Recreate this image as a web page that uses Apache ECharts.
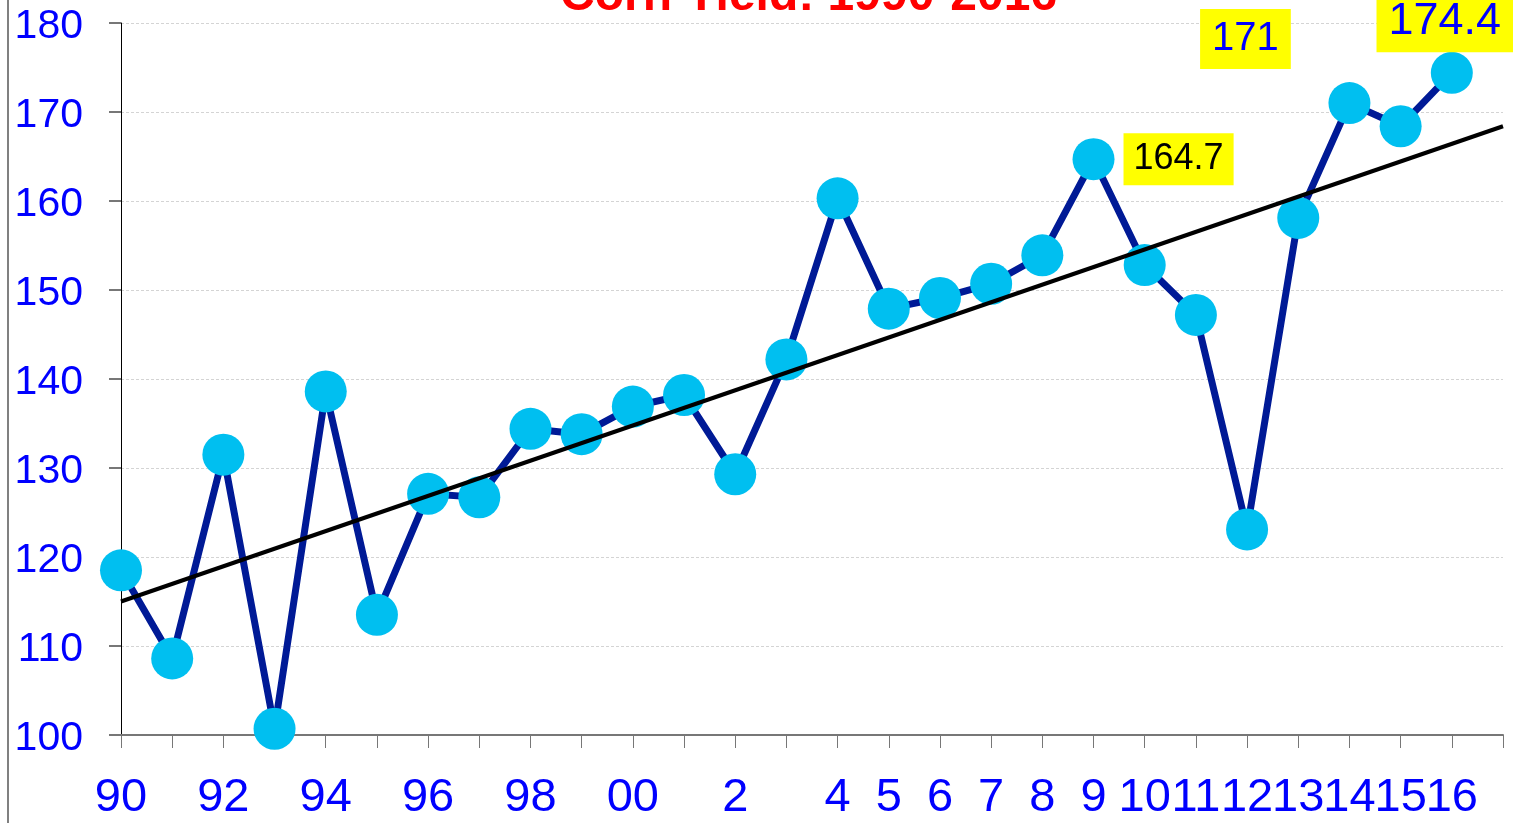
<!DOCTYPE html>
<html>
<head>
<meta charset="utf-8">
<script src="https://cdn.jsdelivr.net/npm/echarts@6/dist/echarts.min.js"></script>
<style>
  html, body { margin: 0; padding: 0; background: #fff; }
  #main { width: 1513px; height: 823px; }
</style>
</head>
<body>
<div id="main"></div>
<script>
// years 1990-2016, plus one empty slot at the end of the axis
var years = ['1990','1991','1992','1993','1994','1995','1996','1997','1998','1999',
             '2000','2001','2002','2003','2004','2005','2006','2007','2008','2009',
             '2010','2011','2012','2013','2014','2015','2016','2017'];
var tickLabels = ['90','','92','','94','','96','','98','','00','','2','','4','5','6','7','8','9',
                  '10','11','12','13','14','15','16',''];
var yieldValues = [118.5, 108.6, 131.5, 100.7, 138.6, 113.5, 127.1, 126.7, 134.4, 133.8,
                   136.9, 138.2, 129.3, 142.2, 160.3, 147.9, 149.1, 150.7, 153.9, 164.7,
                   152.8, 147.2, 123.1, 158.1, 171.0, 168.4, 174.4, null];
// trend line end points (first and last slot of the axis)
var trendStart = 115.0;
var trendEnd = 168.4;
var yTicks = [100, 110, 120, 130, 140, 150, 160, 170, 180];

var font = "Arial, 'Liberation Sans', sans-serif";

// callout boxes for a few years
var callouts = {
  '2009': { text: '164.7', position: 'right', distance: 9, offset: [0, 0], color: '#000000', fontSize: 36, padding: [8, 10] },
  '2014': { text: '171', position: 'inside', distance: 0, offset: [-104, -64], color: '#0000FF', fontSize: 40, padding: [10, 12] },
  '2016': { text: '174.4', position: 'inside', distance: 0, offset: [-7, -51], color: '#0000FF', fontSize: 45, padding: [8, 12] }
};

var seriesData = [];
for (var i = 0; i < years.length; i++) {
  var item = { value: yieldValues[i] };
  var c = callouts[years[i]];
  if (c) {
    item.label = {
      show: true,
      formatter: c.text,
      position: c.position,
      distance: c.distance,
      offset: c.offset,
      color: c.color,
      fontSize: c.fontSize,
      fontFamily: font,
      backgroundColor: '#FFFF00',
      padding: c.padding
    };
  }
  seriesData.push(item);
}

var chart = echarts.init(document.getElementById('main'));
chart.setOption({
  animation: false,
  backgroundColor: '#ffffff',
  title: {
    text: 'Corn Yield: 1990-2016',
    left: 555,
    top: -32,
    textStyle: { color: '#FF0000', fontSize: 48, fontWeight: 'bold', fontFamily: font }
  },
  graphic: [{
    type: 'line',
    shape: { x1: 8, y1: 0, x2: 8, y2: 823 },
    style: { stroke: '#808080', lineWidth: 2 }
  }],
  grid: { left: 121, right: 10, top: 23, bottom: 88 },
  xAxis: {
    type: 'category',
    data: years,
    boundaryGap: false,
    axisLine: { lineStyle: { color: '#777777', width: 2 } },
    axisTick: { show: true, interval: 0, length: 13, lineStyle: { color: '#777777', width: 1 } },
    axisLabel: {
      interval: 0,
      margin: 40,
      color: '#0000FF',
      fontSize: 47,
      fontFamily: font,
      formatter: function (v, idx) { return tickLabels[idx]; }
    },
    splitLine: { show: false }
  },
  yAxis: {
    type: 'value',
    min: yTicks[0],
    max: yTicks[yTicks.length - 1],
    interval: 10,
    axisLine: { show: true, lineStyle: { color: '#000000', width: 1 } },
    axisTick: { show: true, length: 12, lineStyle: { color: '#777777', width: 2 } },
    axisLabel: {
      margin: 38,
      formatter: '{v|{value}}',
      rich: { v: { color: '#0000FF', fontSize: 41, fontFamily: font, padding: [7, 0, 0, 0] } }
    },
    splitLine: { show: true, lineStyle: { color: '#d4d4d4', width: 1, type: [3, 2] } }
  },
  series: [
    {
      name: 'Yield',
      type: 'line',
      data: seriesData,
      symbol: 'circle',
      symbolSize: 42,
      lineStyle: { color: '#001A96', width: 7 },
      itemStyle: { color: '#00BFF0' },
      z: 2
    },
    {
      name: 'Trend',
      type: 'line',
      data: [],
      z: 5,
      markLine: {
        silent: true,
        symbol: ['none', 'none'],
        label: { show: false },
        lineStyle: { color: '#000000', width: 4, type: 'solid' },
        data: [[{ coord: [0, trendStart] }, { coord: [years.length - 1, trendEnd] }]]
      }
    }
  ]
});
</script>
</body>
</html>
